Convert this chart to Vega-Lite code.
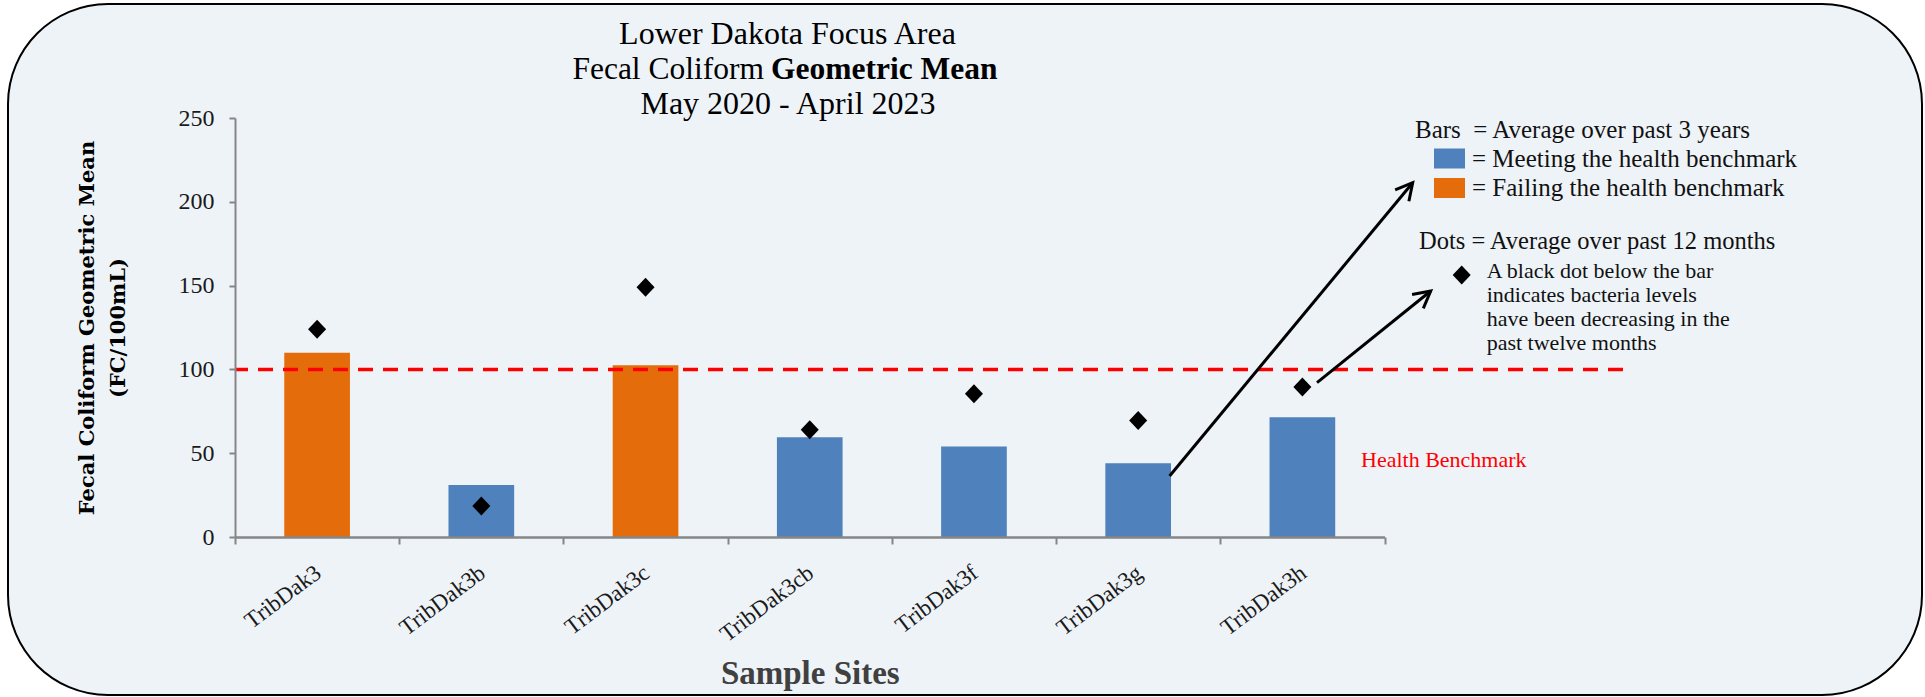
{
  "$schema": "https://vega.github.io/schema/vega-lite/v6.json",
  "width": 1388,
  "height": 419,
  "padding": {"left": 7, "top": 2, "right": 0, "bottom": 0},
  "background": "white",
  "config": {"view": {"stroke": null}, "font": "Liberation Serif", "axis": {"zindex": 1}},
  "data": {
    "values": [
      {"site": "TribDak3", "bar": 110, "dot": 124, "status": "Failing the health benchmark"},
      {"site": "TribDak3b", "bar": 31, "dot": 18.5, "status": "Meeting the health benchmark"},
      {"site": "TribDak3c", "bar": 102.5, "dot": 149, "status": "Failing the health benchmark"},
      {"site": "TribDak3cb", "bar": 59.5, "dot": 64, "status": "Meeting the health benchmark"},
      {"site": "TribDak3f", "bar": 54, "dot": 85.5, "status": "Meeting the health benchmark"},
      {"site": "TribDak3g", "bar": 44, "dot": 69.5, "status": "Meeting the health benchmark"},
      {"site": "TribDak3h", "bar": 71.5, "dot": 89.5, "status": "Meeting the health benchmark"}
    ]
  },
  "layer": [
    {
      "data": {"values": [{}]},
      "mark": {"type": "rect", "cornerRadius": 100, "fill": "#EEF3F8", "stroke": "black", "strokeWidth": 2},
      "encoding": {
        "x": {"datum": -1.3823, "type": "quantitative", "scale": {"domain": [0, 8.4524], "nice": false, "zero": false}, "axis": null},
        "x2": {"datum": 10.2732},
        "y": {"datum": 318.02, "type": "quantitative", "scale": {"domain": [0, 250], "nice": false, "zero": false}, "axis": null},
        "y2": {"datum": -94.27}
      }
    },
    {
      "layer": [
        {
          "mark": {"type": "bar", "width": {"band": 0.4}},
          "encoding": {
            "x": {
              "field": "site", "type": "nominal", "sort": null,
              "scale": {"range": [0, 1149.5], "paddingInner": 0, "paddingOuter": 0},
              "axis": {
                "zindex": 1,
                "title": "Sample Sites", "titleFont": "Liberation Serif", "titleFontSize": 33, "titleFontWeight": "bold",
                "titleColor": "#404040", "titlePadding": 12,
                "labelAngle": -37, "labelAlign": "right", "labelBaseline": "alphabetic", "labelFont": "Liberation Serif",
                "labelFontSize": 23, "labelColor": "#1a1a1a", "labelPadding": 31.5, "labelOffset": 5,
                "tickBand": "extent", "tickSize": 7, "tickWidth": 2, "tickColor": "#868686",
                "domainColor": "#868686", "domainWidth": 2.5
              }
            },
            "y": {
              "field": "bar", "type": "quantitative",
              "scale": {"domain": [0, 250], "nice": false, "zero": true},
              "axis": {
                "zindex": 1,
                "values": [0, 50, 100, 150, 200, 250],
                "title": ["Fecal Coliform Geometric Mean", "(FC/100mL)"],
                "titleFont": "DejaVu Serif", "titleFontSize": 21, "titleFontWeight": "bold", "titleColor": "black",
                "titleLineHeight": 31, "titlePadding": 50,
                "labelFont": "Liberation Serif", "labelFontSize": 24, "labelColor": "#1a1a1a", "labelPadding": 15,
                "tickSize": 6, "tickWidth": 2, "tickColor": "#868686", "domainColor": "#868686", "domainWidth": 2, "grid": false
              }
            },
            "color": {
              "field": "status", "type": "nominal",
              "scale": {"domain": ["Meeting the health benchmark", "Failing the health benchmark"], "range": ["#4F81BD", "#E46C0A"]},
              "legend": {
                "orient": "none", "legendX": 1180, "legendY": 0, "padding": 0, "zindex": 1,
                "title": "Bars\u00a0\u00a0= Average over past 3 years", "titleLimit": 600,
                "titleFont": "Liberation Serif", "titleFontSize": 25, "titleFontWeight": "normal", "titleColor": "#111111", "titlePadding": 3,
                "labelExpr": "'= ' + datum.label",
                "labelFont": "Liberation Serif", "labelFontSize": 25, "labelColor": "#111111", "labelLimit": 600,
                "symbolType": "M-1.55,-1H1.55V1H-1.55Z", "symbolSize": 400, "symbolStrokeWidth": 0, "symbolOpacity": 1,
                "symbolOffset": 22, "labelOffset": 10, "rowPadding": 3.5
              }
            }
          }
        },
        {
          "mark": {"type": "point", "shape": "M-0.95,0L0,-1L0.95,0L0,1Z", "filled": true, "color": "black", "size": 361, "opacity": 1},
          "encoding": {
            "x": {"field": "site", "type": "nominal", "sort": null},
            "y": {"field": "dot", "type": "quantitative"}
          }
        }
      ]
    },
    {
      "data": {"values": [{}]},
      "layer": [
        {
          "mark": {"type": "rule", "color": "#FF0000", "strokeWidth": 3.5, "strokeDash": [15, 10]},
          "encoding": {"y": {"datum": 100, "type": "quantitative", "scale": {"domain": [0, 250], "nice": false, "zero": false}, "axis": null}}
        },
        {
          "mark": {"type": "text", "text": "Lower Dakota Focus Area", "fontSize": 32, "align": "center", "baseline": "alphabetic", "color": "black"},
          "encoding": {
            "x": {"datum": 3.3645, "type": "quantitative", "scale": {"domain": [0, 8.4524], "nice": false, "zero": false}, "axis": null},
            "y": {"datum": 293.97, "type": "quantitative", "axis": null}
          }
        },
        {
          "mark": {"type": "text", "text": "Fecal Coliform", "fontSize": 31.5, "align": "right", "baseline": "alphabetic", "color": "black"},
          "encoding": {"x": {"datum": 3.2214, "type": "quantitative"}, "y": {"datum": 273.09, "type": "quantitative", "axis": null}}
        },
        {
          "mark": {"type": "text", "text": "Geometric Mean", "fontSize": 31.5, "fontWeight": "bold", "align": "left", "baseline": "alphabetic", "color": "black"},
          "encoding": {"x": {"datum": 3.264, "type": "quantitative"}, "y": {"datum": 273.09, "type": "quantitative", "axis": null}}
        },
        {
          "mark": {"type": "text", "text": "May 2020 - April 2023", "fontSize": 32, "align": "center", "baseline": "alphabetic", "color": "black"},
          "encoding": {"x": {"datum": 3.3675, "type": "quantitative"}, "y": {"datum": 252.57, "type": "quantitative", "axis": null}}
        },
        {
          "mark": {"type": "text", "text": "Dots = Average over past 12 months", "fontSize": 24.5, "align": "left", "baseline": "alphabetic", "color": "#111111"},
          "encoding": {"x": {"datum": 7.2101, "type": "quantitative"}, "y": {"datum": 172.02, "type": "quantitative", "axis": null}}
        },
        {
          "mark": {"type": "point", "shape": "M-0.95,0L0,-1L0.95,0L0,1Z", "filled": true, "color": "black", "size": 361, "opacity": 1},
          "encoding": {"x": {"datum": 7.4701, "type": "quantitative"}, "y": {"datum": 156.32, "type": "quantitative", "axis": null}}
        },
        {
          "mark": {"type": "text", "text": ["A black dot below the bar", "indicates bacteria levels", "have been decreasing in the", "past twelve months"], "fontSize": 22, "lineHeight": 24, "align": "left", "baseline": "alphabetic", "color": "#111111"},
          "encoding": {"x": {"datum": 7.6223, "type": "quantitative"}, "y": {"datum": 154.71, "type": "quantitative", "axis": null}}
        },
        {
          "mark": {"type": "text", "text": "Health Benchmark", "fontSize": 22, "align": "left", "baseline": "alphabetic", "color": "#FF0000"},
          "encoding": {"x": {"datum": 6.8569, "type": "quantitative"}, "y": {"datum": 41.95, "type": "quantitative", "axis": null}}
        },
        {
          "mark": {"type": "rule", "color": "black", "strokeWidth": 3},
          "encoding": {
            "x": {"datum": 5.6914, "type": "quantitative"}, "x2": {"datum": 7.1717},
            "y": {"datum": 36.4, "type": "quantitative", "axis": null}, "y2": {"datum": 211.4}
          }
        },
        {
          "mark": {"type": "rule", "color": "black", "strokeWidth": 3},
          "encoding": {
            "x": {"datum": 6.589, "type": "quantitative"}, "x2": {"datum": 7.2814},
            "y": {"datum": 92.06, "type": "quantitative", "axis": null}, "y2": {"datum": 146.78}
          }
        },
        {
          "mark": {"type": "point", "shape": "M-0.47,0.88L0,0L0.47,0.88", "filled": false, "stroke": "black", "strokeWidth": 3, "size": 1444, "angle": 39.65, "opacity": 1},
          "encoding": {"x": {"datum": 7.1717, "type": "quantitative"}, "y": {"datum": 211.4, "type": "quantitative", "axis": null}}
        },
        {
          "mark": {"type": "point", "shape": "M-0.47,0.88L0,0L0.47,0.88", "filled": false, "stroke": "black", "strokeWidth": 3, "size": 1444, "angle": 51.1, "opacity": 1},
          "encoding": {"x": {"datum": 7.2814, "type": "quantitative"}, "y": {"datum": 146.78, "type": "quantitative", "axis": null}}
        }
      ]
    }
  ],
  "resolve": {"scale": {"x": "independent", "y": "independent"}}
}
